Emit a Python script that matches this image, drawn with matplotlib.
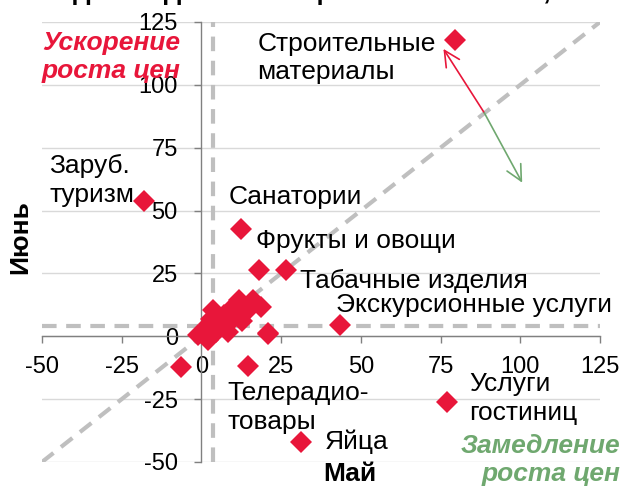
import matplotlib
matplotlib.use("Agg")
import matplotlib.pyplot as plt

plt.rcParams['font.family'] = ['Liberation Sans', 'DejaVu Sans']

# Data: price growth in May (x) and June (y)
labeled_names = ["Строительные\nматериалы", "Заруб.\nтуризм", "Санатории", "Фрукты и овощи",
                 "Табачные изделия", "Экскурсионные услуги", "Услуги\nгостиниц", "Яйца",
                 "Телерадио-\nтовары"]
labeled_may = [79.6, -17.9, 12.4, 18.0, 26.5, 43.6, 77.0, 31.3, 14.7]
labeled_jun = [118.0, 54.0, 42.7, 26.2, 26.2, 4.4, -26.0, -42.0, -12.0]
label_x = [17.6, -47.6, 8.5, 17.2, 31.0, 42.3, 84.0, 38.6, 8.2]
label_y = [110.7, 61.9, 55.2, 37.7, 21.8, 12.3, -24.8, -42.0, -28.4]

other_may = [-6.3, 21.0, -1.2, 2.0, 3.5, 3.0, 6.2, 8.2, 7.2, 10.3, 11.9, 14.0, 16.1,
             18.7, 20.8, 4.6, 1.0, 9.3, 12.7, 5.5, 0.5, 2.5]
other_jun = [-12.3, 1.2, 0.4, -1.6, 10.3, 7.0, 4.4, 1.7, 8.3, 7.1, 14.3, 9.6, 14.3,
             11.6, 1.1, 1.7, 3.0, 11.0, 6.0, 6.5, 1.0, 5.0]

may_avg = 3.5
jun_avg = 4.0
ticks = [-50, -25, 0, 25, 50, 75, 100, 125]

RED = '#E8163A'
GREEN = '#6FA86F'
GRAY = '#BFBFBF'
FS = 19
TFS = 17

fig = plt.figure(figsize=(6.25, 4.88), dpi=100)
ax = fig.add_axes([42/625, 1-462/488, 558/625, 440/488])
ax.set_xlim(-50, 125)
ax.set_ylim(-50, 125)

for t in ticks:
    ax.axhline(t, color='#D9D9D9', lw=1.0, zorder=0)

dash = (0, (3.5, 2.3))
ax.plot([-50, 125], [-50, 125], color=GRAY, lw=3, linestyle=dash, zorder=1)
ax.plot([may_avg, may_avg], [-50, 125], color=GRAY, lw=3, linestyle=dash, zorder=1)
ax.plot([-50, 125], [jun_avg, jun_avg], color=GRAY, lw=3, linestyle=dash, zorder=1)

ax.plot(other_may, other_jun, linestyle='none', marker='D', ms=11, color=RED,
        markeredgewidth=0, zorder=3)
ax.plot(labeled_may, labeled_jun, linestyle='none', marker='D', ms=11, color=RED,
        markeredgewidth=0, zorder=3)

for name, lx, ly in zip(labeled_names, label_x, label_y):
    ax.text(lx, ly, name, fontsize=FS, ha='left', va='center', linespacing=1.25, zorder=4)

ax.annotate('', xy=(75.9, 114.3), xytext=(88.7, 88.9),
            arrowprops=dict(arrowstyle='->', color=RED, lw=1.2, mutation_scale=28,
                            shrinkA=0, shrinkB=0))
ax.annotate('', xy=(100.6, 61.1), xytext=(88.7, 88.9),
            arrowprops=dict(arrowstyle='->', color=GREEN, lw=1.2, mutation_scale=28,
                            shrinkA=0, shrinkB=0))

for s in ['top', 'right']:
    ax.spines[s].set_visible(False)
ax.spines['left'].set_position(('data', 0))
ax.spines['bottom'].set_position(('data', 0))
for s in ['left', 'bottom']:
    ax.spines[s].set_color('#808080')
    ax.spines[s].set_linewidth(1.0)
    ax.spines[s].set_zorder(2)

ax.set_xticks(ticks)
ax.set_yticks(ticks)
ax.set_xticklabels([str(t) for t in ticks])
ax.set_yticklabels([str(t) for t in ticks])
ax.tick_params(axis='both', labelsize=TFS, color='#808080', length=5, width=1, direction='out')
ax.tick_params(axis='x', pad=9)
ax.tick_params(axis='y', pad=12)
ax.set_facecolor('none')

fig.text(0.288, 0.883, "Ускорение\nроста цен", color=RED, fontsize=FS, fontweight='bold',
         fontstyle='italic', ha='right', va='center', linespacing=1.2)
fig.text(0.992, 0.057, "Замедление\nроста цен", color=GREEN, fontsize=FS, fontweight='bold',
         fontstyle='italic', ha='right', va='center', linespacing=1.2)
fig.text(0.032, 0.514, "Июнь", fontsize=FS, fontweight='bold', rotation=90,
         ha='center', va='center')
fig.text(0.56, 0.029, "Май", fontsize=FS, fontweight='bold', ha='center', va='center')

fig.text(0.5, 1.003, "Годовая динамика цен в мае и июне, %", fontsize=20,
         fontweight='bold', ha='center', va='baseline')

fig.savefig('out.png', dpi=100)
